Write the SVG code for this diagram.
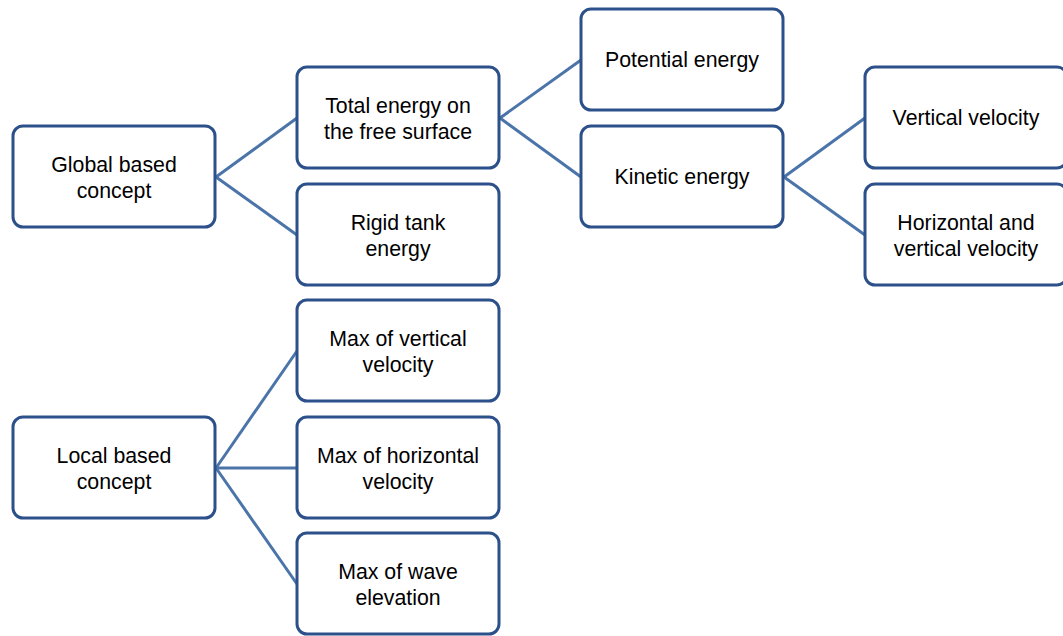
<svg xmlns="http://www.w3.org/2000/svg" width="1063" height="636" viewBox="0 0 1063 636">
<style>
.box{fill:#ffffff;stroke:#2c5089;stroke-width:3}
.t{font-family:"Liberation Sans",Arial,sans-serif;font-size:21.3px;fill:#000;text-anchor:middle}
.c line{stroke:#4b74a9;stroke-width:3;fill:none}
</style>
<rect width="1063" height="636" fill="#ffffff"/>
<g class="c" id="connectors">
<line x1="216" y1="177" x2="297" y2="118"/>
<line x1="216" y1="177" x2="297" y2="235"/>
<line x1="500" y1="118" x2="581" y2="60"/>
<line x1="500" y1="118" x2="581" y2="177"/>
<line x1="784" y1="177" x2="865" y2="118"/>
<line x1="784" y1="177" x2="865" y2="235"/>
<line x1="216" y1="468" x2="297" y2="351"/>
<line x1="216" y1="468" x2="297" y2="468"/>
<line x1="216" y1="468" x2="297" y2="584"/>
</g>
<g id="global"><rect class="box" x="13" y="126" width="202" height="101" rx="10"/><text class="t" x="114" y="172">Global based</text><text class="t" x="114" y="198">concept</text></g>
<g id="total"><rect class="box" x="297" y="67" width="202" height="101" rx="10"/><text class="t" x="398" y="113">Total energy on</text><text class="t" x="398" y="139">the free surface</text></g>
<g id="rigid"><rect class="box" x="297" y="184" width="202" height="101" rx="10"/><text class="t" x="398" y="230">Rigid tank</text><text class="t" x="398" y="256">energy</text></g>
<g id="potential"><rect class="box" x="581" y="9" width="202" height="101" rx="10"/><text class="t" x="682" y="67">Potential energy</text></g>
<g id="kinetic"><rect class="box" x="581" y="126" width="202" height="101" rx="10"/><text class="t" x="682" y="184">Kinetic energy</text></g>
<g id="vertical"><rect class="box" x="865" y="67" width="202" height="101" rx="10"/><text class="t" x="966" y="125">Vertical velocity</text></g>
<g id="horizvert"><rect class="box" x="865" y="184" width="202" height="101" rx="10"/><text class="t" x="966" y="230">Horizontal and</text><text class="t" x="966" y="256">vertical velocity</text></g>
<g id="local"><rect class="box" x="13" y="417" width="202" height="101" rx="10"/><text class="t" x="114" y="463">Local based</text><text class="t" x="114" y="489">concept</text></g>
<g id="maxvert"><rect class="box" x="297" y="300" width="202" height="101" rx="10"/><text class="t" x="398" y="346">Max of vertical</text><text class="t" x="398" y="372">velocity</text></g>
<g id="maxhoriz"><rect class="box" x="297" y="417" width="202" height="101" rx="10"/><text class="t" x="398" y="463">Max of horizontal</text><text class="t" x="398" y="489">velocity</text></g>
<g id="maxwave"><rect class="box" x="297" y="533" width="202" height="101" rx="10"/><text class="t" x="398" y="579">Max of wave</text><text class="t" x="398" y="605">elevation</text></g>
</svg>
